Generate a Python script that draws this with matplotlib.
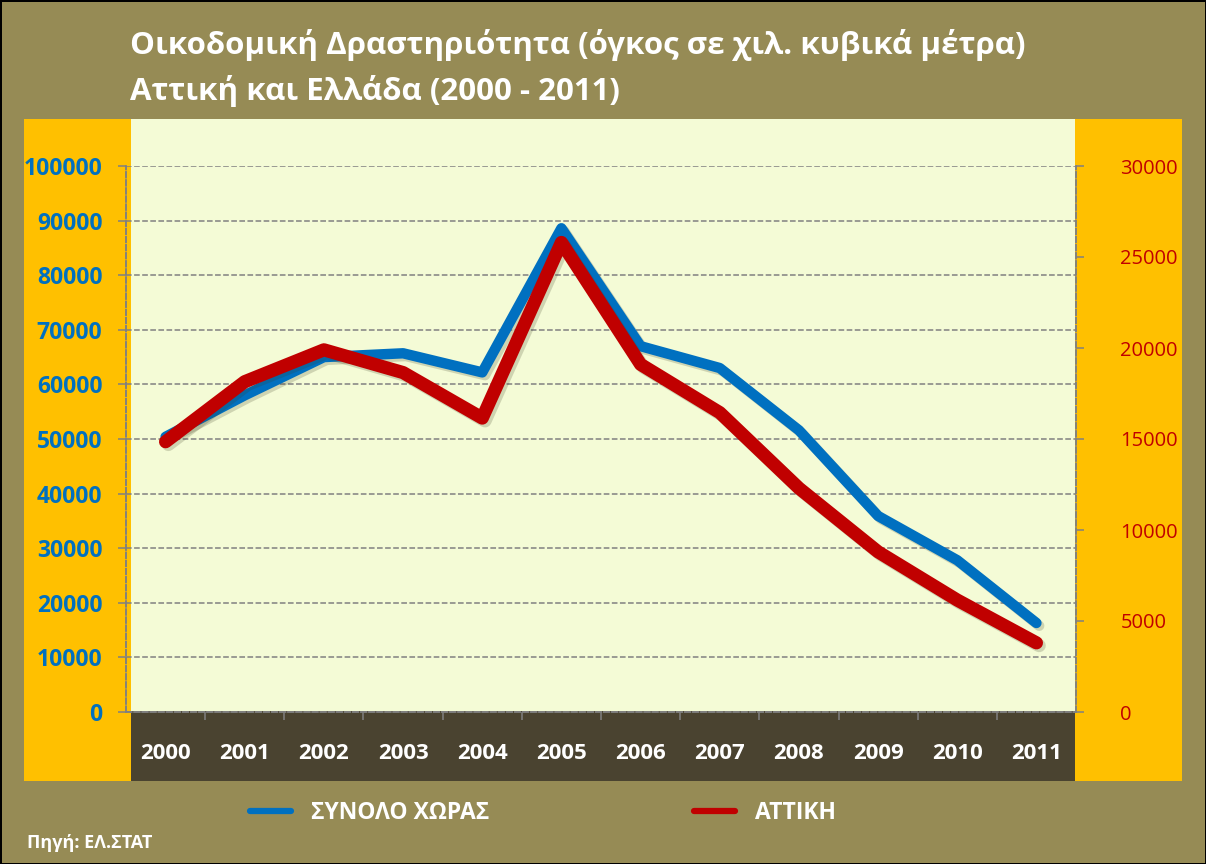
import matplotlib
matplotlib.use('Agg')
import matplotlib.pyplot as plt
import matplotlib.patheffects as pe
from matplotlib.patches import Rectangle
from matplotlib.lines import Line2D
import matplotlib.ticker as ticker

plt.rcParams['font.family'] = ['Open Sans', 'DejaVu Sans']

years = ['2000', '2001', '2002', '2003', '2004', '2005',
         '2006', '2007', '2008', '2009', '2010', '2011']
# ΣΥΝΟΛΟ ΧΩΡΑΣ (left axis)
greece = [50400, 58000, 65000, 65700, 62200, 88600,
          67000, 63000, 51600, 35900, 27800, 16300]
# ΑΤΤΙΚΗ (right axis)
attica = [14850, 18150, 19900, 18650, 16150, 25800,
          19100, 16450, 12300, 8800, 6150, 3800]

olive = '#968B55'
gold = '#FFC000'
paper = '#F4FBD6'
dark = '#4A4330'
blue = '#0070C0'
red = '#C00000'
grid = '#808080'

W, H = 1206, 864
fig = plt.figure(figsize=(W / 100, H / 100), dpi=100)
fig.patch.set_facecolor(olive)
fig.patch.set_edgecolor('black')
fig.patch.set_linewidth(2)


def px(x0, y0, x1, y1):
    # pixel box (top-left origin) -> figure fraction rect
    return (x0 / W, 1 - y1 / H), (x1 - x0) / W, (y1 - y0) / H


for box, col in [((24, 119, 1182, 781), gold),
                 ((131, 119, 1075, 711), paper),
                 ((131, 711, 1075, 781), dark)]:
    xy, w, h = px(*box)
    fig.patches.append(Rectangle(xy, w, h, transform=fig.transFigure,
                                 facecolor=col, edgecolor='none', zorder=-5))

xy, w, h = px(126, 166, 1076, 712)
ax = fig.add_axes([xy[0], xy[1], w, h])
ax.patch.set_alpha(0)
x = list(range(len(years)))

shadow = [pe.SimpleLineShadow(offset=(2, -2), shadow_color='#3a3a20', alpha=0.2),
          pe.Normal()]

ax.plot(x, greece, color=blue, lw=7.5, solid_capstyle='round',
        solid_joinstyle='round', path_effects=shadow, zorder=3)
ax.set_xlim(-0.5, len(years) - 0.5)
ax.set_ylim(0, 100000)
ax.yaxis.set_major_locator(ticker.MultipleLocator(10000))
ax.grid(axis='y', color=grid, ls='--', lw=1.1)
ax.set_axisbelow(True)

ax2 = ax.twinx()
ax2.plot(x, attica, color=red, lw=9.5, solid_capstyle='round',
         solid_joinstyle='round', path_effects=shadow, zorder=3)
ax2.set_ylim(0, 30000)
ax2.yaxis.set_major_locator(ticker.MultipleLocator(5000))

for a in (ax, ax2):
    for s in a.spines.values():
        s.set_color(grid)
        s.set_linestyle('--')
        s.set_linewidth(1.1)
    a.spines['top'].set_visible(False)

ax.tick_params(axis='y', colors=grid, length=6, width=1.1, pad=11,
               labelcolor=blue, labelsize=16.5)
for t in ax.get_yticklabels():
    t.set_fontweight('bold')
ax2.tick_params(axis='y', colors=grid, length=6, width=1.1, pad=26,
                labelcolor=red, labelsize=14.5)

ax.set_xticks(x)
ax.set_xticklabels(years, color='white', fontsize=16, fontweight='bold')
ax.xaxis.set_minor_locator(ticker.FixedLocator([i + 0.5 for i in x[:-1]]))
ax.tick_params(axis='x', which='major', length=0, pad=22)
ax.tick_params(axis='x', which='minor', length=6, width=1.1, color=grid)

fig.text(130 / W, 1 - 29 / H,
         'Οικοδομική Δραστηριότητα (όγκος σε χιλ. κυβικά μέτρα)\nΑττική και Ελλάδα (2000 - 2011)',
         color='white', fontsize=22.5, fontweight='bold', va='top', ha='left',
         linespacing=1.55)

handles = [Line2D([], [], color=blue, lw=4.5, solid_capstyle='round'),
           Line2D([], [], color=red, lw=4.5, solid_capstyle='round')]
fig.legend(handles, ['ΣΥΝΟΛΟ ΧΩΡΑΣ', 'ΑΤΤΙΚΗ'], loc='center',
           bbox_to_anchor=(543 / W, 1 - 813 / H), ncol=2, frameon=False,
           handlelength=1.8, handletextpad=0.9, columnspacing=8.9,
           prop={'size': 16.5, 'weight': 'bold'}, labelcolor='white')

fig.text(27 / W, 1 - 843 / H, 'Πηγή: ΕΛ.ΣΤΑΤ', color='white', fontsize=13,
         fontweight='bold', va='center', ha='left')

fig.savefig('out.png', dpi=100, facecolor=fig.get_facecolor())
